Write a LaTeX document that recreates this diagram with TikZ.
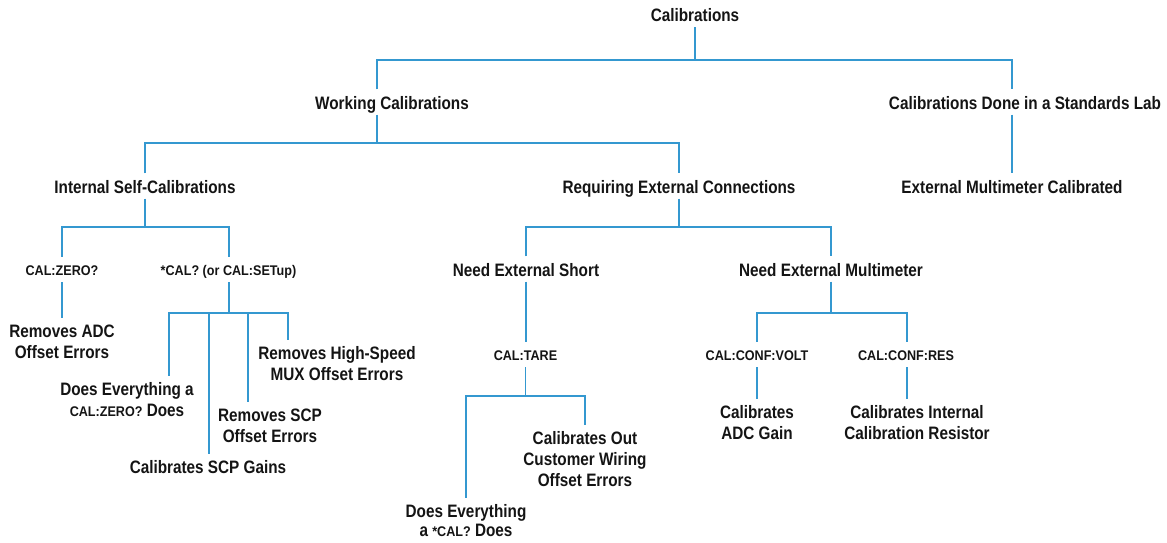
\documentclass[tikz,border=0pt]{standalone}
\usepackage{fontspec}
\setmainfont{Liberation Sans}
\newfontfamily\condb{Liberation Sans}[FakeStretch=0.85]
\newfontfamily\codef{Liberation Sans}[FakeStretch=0.9]
\definecolor{lineblue}{RGB}{52,152,208}
\definecolor{ink}{RGB}{20,20,20}
\newcommand{\hf}{\condb\bfseries\fontsize{18}{21}\selectfont}
\newcommand{\cf}{\codef\bfseries\fontsize{14}{16}\selectfont}
\tikzset{
  conn/.style={draw=lineblue, line width=1.3pt},
  head/.style={font=\hf, text=ink, inner sep=0pt, text height=20pt, text depth=5pt, anchor=base},
  code/.style={font=\cf, text=ink, inner sep=0pt, text height=18pt, text depth=7pt, anchor=base},
  leaf/.style={font=\hf, text=ink, align=center, inner xsep=0pt, inner ysep=7pt, anchor=north},
}
\begin{document}
\begin{tikzpicture}[x=1pt,y=-1pt]
\useasboundingbox (0,0) rectangle (1167,543);
% nodes
\node[head] (cal) at (695,22) {Calibrations};
\node[head] (work) at (392,109.5) {Working Calibrations};
\node[head] (std) at (1025,109.5) {Calibrations Done in a Standards Lab};
\node[head] (extmm) at (1012,193.5) {External Multimeter Calibrated};
\node[head] (internal) at (145,193.5) {Internal Self-Calibrations};
\node[head] (req) at (679,193.5) {Requiring External Connections};
\node[code] (calzero) at (62,275) {CAL:ZERO?};
\node[code] (calq) at (228.5,275) {*CAL? (or CAL:SETup)};
\node[leaf] (rade) at (62,317.5) {Removes ADC\\Offset Errors};
\node[leaf] (de1) at (127,375.5) {Does Everything a\\{\cf CAL:ZERO?} Does};
\node[leaf] (gains) at (208,453.5) {Calibrates SCP Gains};
\node[leaf] (rscp) at (270,401.5) {Removes SCP\\Offset Errors};
\node[leaf] (rhs) at (337,339.5) {Removes High-Speed\\MUX Offset Errors};
\node[head] (nshort) at (526,276.5) {Need External Short};
\node[head] (nmm) at (831,276.5) {Need External Multimeter};
\node[code] (tare) at (525.5,360) {CAL:TARE};
\node[code] (volt) at (757,360) {CAL:CONF:VOLT};
\node[code] (res) at (906,360) {CAL:CONF:RES};
\node[leaf] (calout) at (585,424.5) {Calibrates Out\\Customer Wiring\\Offset Errors};
\node[leaf, font=\condb\bfseries\fontsize{18}{19}\selectfont] (de2) at (466,497.5) {Does Everything\\a {\cf *CAL?} Does};
\node[leaf] (adcg) at (757,398.5) {Calibrates\\ADC Gain};
\node[leaf] (cres) at (917,398.5) {Calibrates Internal\\Calibration Resistor};
% junction coordinates
\coordinate (w0) at (377,60);
\coordinate (e0) at (1012,60);
\coordinate (w1) at (145,143);
\coordinate (e1) at (679,143);
\coordinate (a1) at (62,227);
\coordinate (a2) at (229,227);
\coordinate (c1) at (169,313);
\coordinate (c2) at (209,313);
\coordinate (c3) at (248,313);
\coordinate (c4) at (288,313);
\coordinate (r1) at (526,227);
\coordinate (r2) at (831,227);
\coordinate (t1) at (466,396);
\coordinate (t2) at (585,396);
\coordinate (m1) at (757,313);
\coordinate (m2) at (907,313);
% connectors
\draw[conn] (cal.south) -- (cal.south |- w0);
\draw[conn] (work.north -| w0) -- (w0) -- (e0) -- (std.north -| e0);
\draw[conn] (std.south -| e0) -- (extmm.north -| e0);
\draw[conn] (work.south -| w0) -- (w0 |- w1);
\draw[conn] (internal.north) -- (w1) -- (e1) -- (req.north);
\draw[conn] (internal.south) -- (internal.south |- a1);
\draw[conn] (calzero.north) -- (a1) -- (a2) -- (calq.north -| a2);
\draw[conn] (calzero.south) -- (rade.north);
\draw[conn] (calq.south -| a2) -- (a2 |- c1);
\draw[conn] (c1 |- de1.north) -- (c1) -- (c4) -- (c4 |- rhs.north);
\draw[conn] (c2) -- (c2 |- gains.north);
\draw[conn] (c3) -- (c3 |- rscp.north);
\draw[conn] (req.south) -- (req.south |- r1);
\draw[conn] (nshort.north) -- (r1) -- (r2) -- (nmm.north);
\draw[conn] (nshort.south) -- (nshort.south |- tare.north);
\draw[conn] (tare.south) -- (tare.south |- t1);
\draw[conn] (de2.north -| t1) -- (t1) -- (t2) -- (calout.north -| t2);
\draw[conn] (nmm.south) -- (nmm.south |- m1);
\draw[conn] (volt.north) -- (m1) -- (m2) -- (res.north -| m2);
\draw[conn] (volt.south) -- (adcg.north);
\draw[conn] (res.south -| m2) -- (m2 |- cres.north);
\end{tikzpicture}
\end{document}
